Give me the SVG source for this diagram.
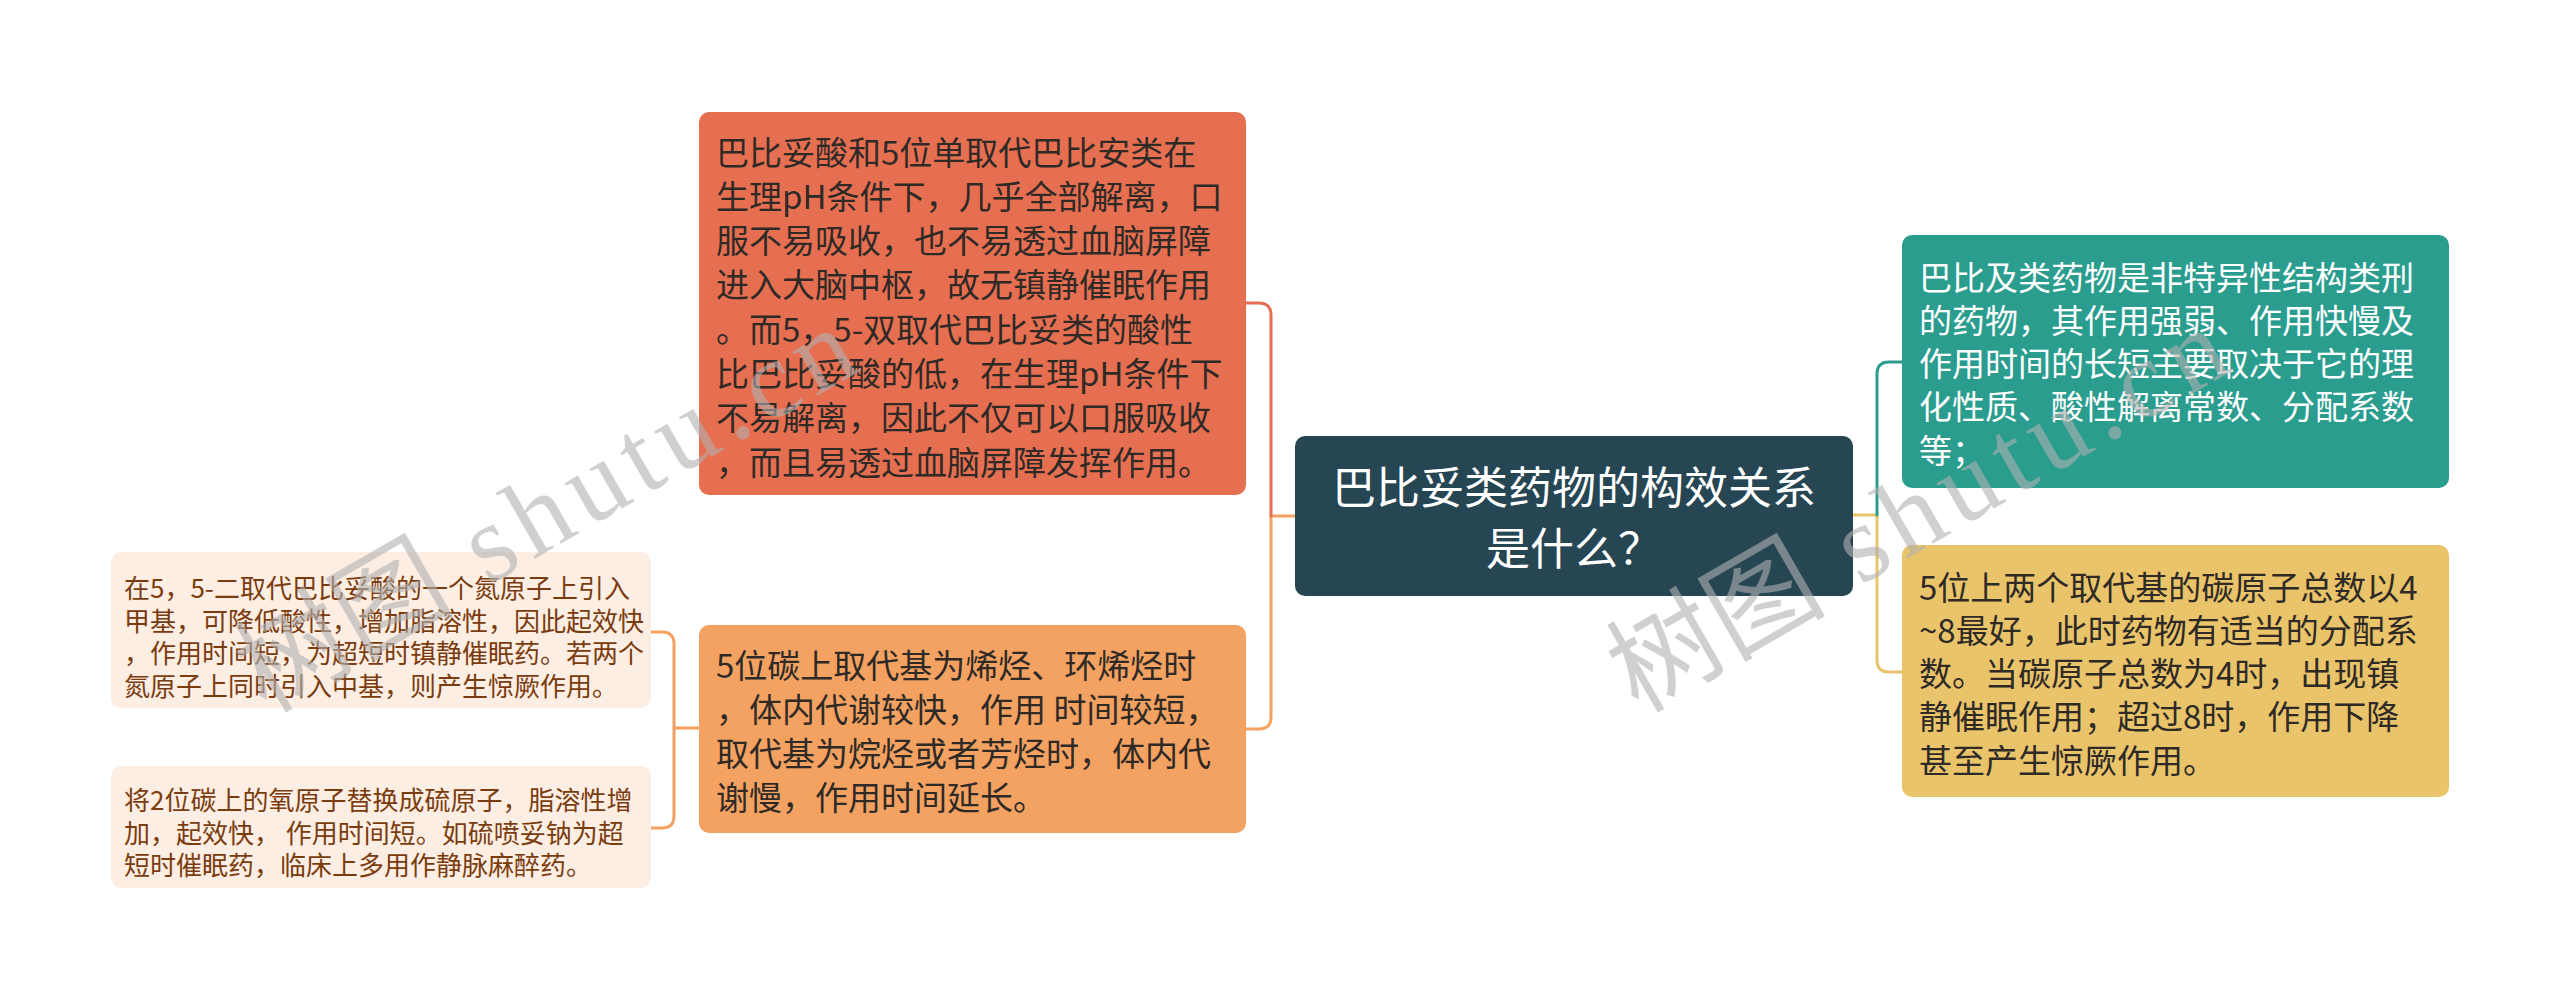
<svg xmlns="http://www.w3.org/2000/svg" width="2560" height="1001" viewBox="0 0 2560 1001">
<style>
  .t { font-family: "Noto Sans CJK SC", "Noto Sans", sans-serif; }
  .m { font-size: 33px; fill: #2f2a26; }
  .w { fill: #ffffff; }
  .c { font-size: 44px; fill: #ffffff; text-anchor: middle; }
  .s { font-size: 26px; fill: #7a3c0e; }
  .ln { fill: none; stroke-width: 3; stroke-linecap: round; stroke-linejoin: round; }
  .wm { font-family: "Liberation Serif", "Noto Sans CJK SC", serif; font-size: 110px; fill: #b0b0b0; fill-opacity: 0.6; }
  .ls { letter-spacing: 9px; }
</style>
<rect x="0" y="0" width="2560" height="1001" fill="#ffffff"/>
<g id="connectors">
  <path class="ln" stroke="#f4a261" d="M1295 516 H1271 V717 Q1271 729 1259 729 H1246"/>
  <path class="ln" stroke="#e76f51" d="M1271 516 V315 Q1271 303 1259 303 H1246"/>
  <path class="ln" stroke="#e9c46a" d="M1853 515 H1877 V660 Q1877 672 1889 672 H1902"/>
  <path class="ln" stroke="#2a9d8f" d="M1877 515 V374 Q1877 362 1889 362 H1902"/>
  <path class="ln" stroke="#f4a261" d="M699 728 H674"/>
  <path class="ln" stroke="#f4a261" d="M651 632 H662 Q674 632 674 644 V816 Q674 828 662 828 H651"/>
</g>
<g id="root">
  <rect x="1295" y="436" width="558" height="160" rx="10" fill="#264653"/>
  <text class="t c" x="1574" y="504">巴比妥类药物的构效关系</text>
  <text class="t c" x="1574" y="565">是什么？</text>
</g>
<g id="n-red">
  <rect x="699" y="112" width="547" height="383" rx="10" fill="#e76f51"/>
  <text class="t m">
    <tspan x="716" y="164.5">巴比妥酸和5位单取代巴比安类在</tspan>
    <tspan x="716" y="208.8">生理pH条件下，几乎全部解离，口</tspan>
    <tspan x="716" y="253.1">服不易吸收，也不易透过血脑屏障</tspan>
    <tspan x="716" y="297.4">进入大脑中枢，故无镇静催眠作用</tspan>
    <tspan x="716" y="341.7">。而5，5-双取代巴比妥类的酸性</tspan>
    <tspan x="716" y="386">比巴比妥酸的低，在生理pH条件下</tspan>
    <tspan x="716" y="430.3">不易解离，因此不仅可以口服吸收</tspan>
    <tspan x="716" y="474.6">，而且易透过血脑屏障发挥作用。</tspan>
  </text>
</g>
<g id="n-orange">
  <rect x="699" y="625" width="547" height="208" rx="10" fill="#f4a261"/>
  <text class="t m">
    <tspan x="716" y="677.5">5位碳上取代基为烯烃、环烯烃时</tspan>
    <tspan x="716" y="721.8">，体内代谢较快，作用 时间较短，</tspan>
    <tspan x="716" y="766.1">取代基为烷烃或者芳烃时，体内代</tspan>
    <tspan x="716" y="810.4">谢慢，作用时间延长。</tspan>
  </text>
</g>
<g id="n-teal">
  <rect x="1902" y="235" width="547" height="253" rx="10" fill="#2a9d8f"/>
  <text class="t m w">
    <tspan x="1919" y="289.5">巴比及类药物是非特异性结构类刑</tspan>
    <tspan x="1919" y="332.8">的药物，其作用强弱、作用快慢及</tspan>
    <tspan x="1919" y="376.1">作用时间的长短主要取决于它的理</tspan>
    <tspan x="1919" y="419.4">化性质、酸性解离常数、分配系数</tspan>
    <tspan x="1919" y="462.7">等；</tspan>
  </text>
</g>
<g id="n-yellow">
  <rect x="1902" y="545" width="547" height="252" rx="10" fill="#e9c46a"/>
  <text class="t m">
    <tspan x="1919" y="599.5">5位上两个取代基的碳原子总数以4</tspan>
    <tspan x="1919" y="642.8">~8最好，此时药物有适当的分配系</tspan>
    <tspan x="1919" y="686.1">数。当碳原子总数为4时，出现镇</tspan>
    <tspan x="1919" y="729.4">静催眠作用；超过8时，作用下降</tspan>
    <tspan x="1919" y="772.7">甚至产生惊厥作用。</tspan>
  </text>
</g>
<g id="n-light1">
  <rect x="111" y="552" width="540" height="156" rx="10" fill="#fdeee4"/>
  <text class="t s">
    <tspan x="124" y="598">在5，5-二取代巴比妥酸的一个氮原子上引入</tspan>
    <tspan x="124" y="630.6">甲基，可降低酸性，增加脂溶性，因此起效快</tspan>
    <tspan x="124" y="663.2">，作用时间短，为超短时镇静催眠药。若两个</tspan>
    <tspan x="124" y="695.8">氮原子上同时引入中基，则产生惊厥作用。</tspan>
  </text>
</g>
<g id="n-light2">
  <rect x="111" y="766" width="540" height="122" rx="10" fill="#fdeee4"/>
  <text class="t s">
    <tspan x="124" y="810">将2位碳上的氧原子替换成硫原子，脂溶性增</tspan>
    <tspan x="124" y="842.6">加，起效快， 作用时间短。如硫喷妥钠为超</tspan>
    <tspan x="124" y="875.2">短时催眠药，临床上多用作静脉麻醉药。</tspan>
  </text>
</g>
<g id="watermarks">
  <text class="wm" transform="translate(266 714) rotate(-30)">树图<tspan class="ls"> shutu.cn</tspan></text>
  <text class="wm" transform="translate(1638 714) rotate(-30)">树图<tspan class="ls"> shutu.cn</tspan></text>
</g>
</svg>
